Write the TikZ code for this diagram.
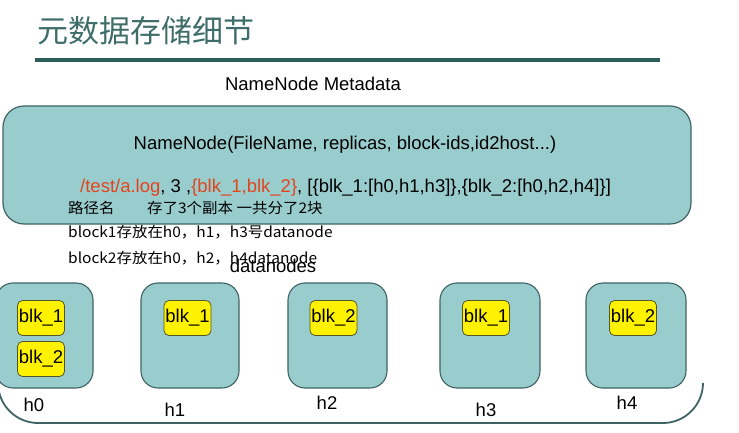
\documentclass[tikz,border=0pt]{standalone}
\usepackage{fontspec}
\setmainfont{Liberation Sans}
\newfontfamily\cjk{Noto Sans CJK SC}
\newfontfamily\cjknote[FakeStretch=1.06]{Noto Sans CJK SC}
\definecolor{tealfill}{HTML}{99CCCC}
\definecolor{tealline}{HTML}{3F6363}
\definecolor{titlecol}{HTML}{3F6E6A}
\definecolor{rulecol}{HTML}{2E5E5A}
\definecolor{redtext}{HTML}{E2451C}
\definecolor{yelline}{HTML}{55552A}
\tikzset{
  arial/.style={font=\fontsize{18.5}{21}\selectfont, inner sep=0pt},
  note/.style={font=\cjknote\fontsize{14.6}{16}\selectfont, inner sep=0pt, anchor=west},
  dnbox/.style={draw=tealline, line width=1.1pt, fill=tealfill, rounded corners=17pt},
  blkbox/.style={draw=yelline, line width=0.8pt, fill=yellow, rounded corners=5pt},
}
\begin{document}
\begin{tikzpicture}[x=1pt,y=-1pt]
\useasboundingbox (0,0) rectangle (739,433);
% title
\node[font=\cjk\fontsize{31}{34}\selectfont, text=titlecol, inner sep=0pt, anchor=west] (title) at (37,31) {元数据存储细节};
\draw[rulecol, line width=3.5pt] (35,60) -- (660,60);
\node[arial] (meta) at (313,84) {NameNode Metadata};
% namenode box
\draw[draw=tealline, line width=1.2pt, fill=tealfill, rounded corners=21pt] (3,106) rectangle (691,224);
\node[arial] (nn) at (345,145) {NameNode(FileName, replicas, block-ids,id2host...)};
\node[arial, anchor=west] (line2) at (80,188) {\textcolor{redtext}{/test/a.log}, 3 ,\textcolor{redtext}{\{blk\_1,blk\_2\}}, [\{blk\_1:[h0,h1,h3]\},\{blk\_2:[h0,h2,h4]\}]};
% annotations
\node[note] (n1) at (68,208) {路径名};
\node[note] (n2) at (147,208) {存了3个副本 一共分了2块};
\node[note] (n3) at (68,232) {block1存放在h0，h1，h3号datanode};
\node[note] (n4) at (68,258) {block2存放在h0，h2，h4datanode};
\node[arial] (dn) at (273,266) {datanodes};
% bottom container outline
\draw[tealline, line width=1.8pt]
  (703,383) .. controls (703,405) and (685,423) .. (663,423)
  -- (38,423) .. controls (16,423) and (-2,405) .. (-2,383);
% datanode boxes
\draw[dnbox] (-4,283) rectangle (93,388);
\draw[dnbox] (141,283) rectangle (239,388);
\draw[dnbox] (288,283) rectangle (387,388);
\draw[dnbox] (440,283) rectangle (540,388);
\draw[dnbox] (586,283) rectangle (686,388);
% blocks
\node[blkbox, arial, minimum width=47pt, minimum height=35pt] (b01) at (41,318) {blk\_1};
\node[blkbox, arial, minimum width=47pt, minimum height=35pt] (b02) at (41,359) {blk\_2};
\node[blkbox, arial, minimum width=47pt, minimum height=35pt] (b11) at (187.5,318) {blk\_1};
\node[blkbox, arial, minimum width=47pt, minimum height=35pt] (b22) at (333.5,318) {blk\_2};
\node[blkbox, arial, minimum width=47pt, minimum height=35pt] (b31) at (486,318) {blk\_1};
\node[blkbox, arial, minimum width=47pt, minimum height=35pt] (b42) at (633,318) {blk\_2};
% host labels
\node[arial] (h0) at (34,405) {h0};
\node[arial] (h1) at (175,410) {h1};
\node[arial] (h2) at (327,403) {h2};
\node[arial] (h3) at (486,410) {h3};
\node[arial] (h4) at (627,403) {h4};
\end{tikzpicture}
\end{document}
